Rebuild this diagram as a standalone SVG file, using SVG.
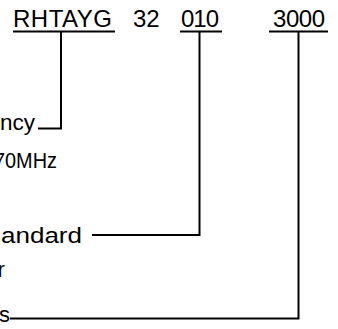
<svg xmlns="http://www.w3.org/2000/svg" width="338" height="329" viewBox="0 0 338 329">
<style>
.h{font-family:"Liberation Sans",Arial,sans-serif;font-size:24px;fill:#000}
.l{font-family:"Liberation Sans",Arial,sans-serif;font-size:22px;fill:#000}
.ln{stroke:#000;stroke-width:2;fill:none}
</style>
<rect width="338" height="329" fill="#fff"/>
<g id="header">
<text class="h" x="13" y="27" textLength="99">RHTAYG</text>
<text class="h" x="133" y="27">32</text>
<text class="h" x="181" y="27" textLength="38">010</text>
<text class="h" x="273" y="27" textLength="52">3000</text>
</g>
<g id="labels">
<text class="l" x="0" y="130" textLength="35" lengthAdjust="spacingAndGlyphs">ncy</text>
<text class="l" x="-6" y="168" textLength="63" lengthAdjust="spacingAndGlyphs">70MHz</text>
<text class="l" x="1" y="243" textLength="81" lengthAdjust="spacingAndGlyphs">andard</text>
<text class="l" x="-2.5" y="277">r</text>
<text class="l" x="-1" y="322" textLength="11" lengthAdjust="spacingAndGlyphs">s</text>
</g>
<g id="connectors" class="ln">
<path d="M13 31.5H115M180 31.5H222M269 31.5H328"/>
<path d="M61 31.5V128.5H38"/>
<path d="M199.5 31.5V235H92"/>
<path d="M298.5 31.5V318.5H10"/>
</g>
</svg>
